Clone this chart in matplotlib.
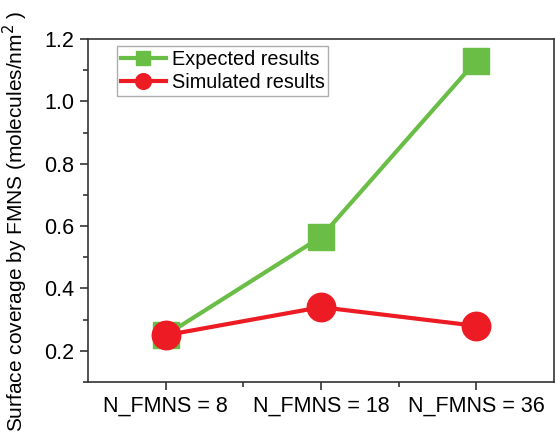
import matplotlib
matplotlib.use("Agg")
import matplotlib.pyplot as plt
from matplotlib.ticker import MultipleLocator, FixedLocator

plt.rcParams['font.family'] = ['Liberation Sans', 'DejaVu Sans']

# Data
categories = ["N_FMNS = 8", "N_FMNS = 18", "N_FMNS = 36"]
expected = [0.25, 0.565, 1.13]
simulated = [0.25, 0.34, 0.28]

GREEN = '#6abd45'
RED = '#ed1c24'

fig = plt.figure(figsize=(5.55, 4.41), dpi=100)
ax = fig.add_axes([0.1586, 0.1338, 0.8394, 0.7778])

x = list(range(len(categories)))
ax.plot(x, expected, color=GREEN, lw=3, marker='s', ms=18.5,
        mec=GREEN, mfc=GREEN, label='Expected results', zorder=3)
ax.plot(x, simulated, color=RED, lw=3, marker='o', ms=20.5,
        mec=RED, mfc=RED, label='Simulated results', zorder=4)

ax.set_xlim(-0.5, 2.5)
ax.set_ylim(0.1, 1.2)
ax.set_xticks(x)
ax.set_xticklabels(categories)
ax.xaxis.set_minor_locator(FixedLocator([0.5, 1.5]))
ax.yaxis.set_major_locator(MultipleLocator(0.2))
ax.yaxis.set_minor_locator(MultipleLocator(0.1))

ax.tick_params(which='both', direction='out', top=False, right=False,
               width=1.2, color='#333333')
ax.tick_params(which='major', length=6, labelsize=15.5, pad=4)
ax.tick_params(which='minor', length=3.5)
for sp in ax.spines.values():
    sp.set_linewidth(1.2)
    sp.set_color('#333333')

ax.set_ylabel('Surface coverage by FMNS (molecules/nm$^2$ )', fontsize=15)
ax.yaxis.set_label_coords(-0.125, 0.47)

leg = ax.legend(loc='upper left', bbox_to_anchor=(0.062, 0.98), fontsize=14.3,
                markerscale=0.55, handlelength=2.25, frameon=True, fancybox=False,
                borderpad=0.2, labelspacing=0.2, handletextpad=0.3,
                borderaxespad=0)
leg.get_frame().set_edgecolor('#999999')
leg.get_frame().set_linewidth(1.0)

fig.savefig('out.png', dpi=100)
